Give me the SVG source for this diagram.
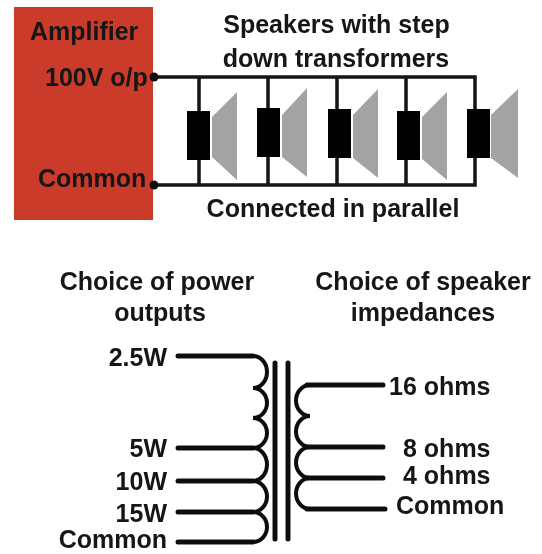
<svg xmlns="http://www.w3.org/2000/svg" width="542" height="554" viewBox="0 0 542 554">
<style>
text{font-family:"Liberation Sans",Arial,sans-serif;font-weight:bold;font-size:25px;fill:#151515}
.m{text-anchor:middle}.e{text-anchor:end}
.w{fill:none;stroke:#151515;stroke-width:3.5}
.t{fill:none;stroke:#111;stroke-width:5;stroke-linecap:round}
.c{fill:none;stroke:#111;stroke-width:4}
.b{fill:#050505}.s{fill:#a3a3a3}
</style>
<defs><filter id="f" x="-5%" y="-5%" width="110%" height="110%"><feGaussianBlur stdDeviation="0.6"/></filter></defs>
<rect width="542" height="554" fill="#fff"/>
<g filter="url(#f)">
<g id="amplifier">
<rect x="14" y="7" width="139" height="213" fill="#cb3b2c"/>
<text x="30" y="40">Amplifier</text>
<text x="45" y="86">100V o/p</text>
<text x="38" y="187">Common</text>
</g>
<g id="connectors">
<path class="w" d="M153 77H475V185H153M199 77V185M268 77V185M337 77V185M406 77V185"/>
<circle cx="154" cy="77" r="4.5" fill="#111"/>
<circle cx="154" cy="185" r="4.5" fill="#111"/>
</g>
<g id="speaker1"><rect class="b" x="187" y="111" width="23" height="49"/><path class="s" d="M212 117L237 92V180L212 157Z"/></g>
<g id="speaker2"><rect class="b" x="257" y="108" width="23" height="49"/><path class="s" d="M282 115L307 88V177L282 157Z"/></g>
<g id="speaker3"><rect class="b" x="328" y="109" width="23" height="49"/><path class="s" d="M353 115L378 89V178L353 158Z"/></g>
<g id="speaker4"><rect class="b" x="397" y="111" width="23" height="49"/><path class="s" d="M422 117L447 92V180L422 159Z"/></g>
<g id="speaker5"><rect class="b" x="467" y="109" width="23" height="49"/><path class="s" d="M491 115L518 89V178L491 158Z"/></g>
<g id="labels-top">
<text class="m" x="336.500" y="33">Speakers with step</text>
<text class="m" x="336" y="67">down transformers</text>
<text class="m" x="333" y="217">Connected in parallel</text>
<text class="m" x="157" y="290">Choice of power</text>
<text class="m" x="160" y="321">outputs</text>
<text class="m" x="423" y="290">Choice of speaker</text>
<text class="m" x="423" y="321">impedances</text>
</g>
<g id="primary">
<path class="c" d="M253 356A14 16 0 0 1 253 388A14 15 0 0 1 253 418A14 15 0 0 1 253 448A14 16.500 0 0 1 253 481A14 15.500 0 0 1 253 512A14 15 0 0 1 253 542"/>
<path class="t" d="M178 356H253M178 448H253M178 481H253M178 512H253M178 542H253"/>
<text class="e" x="167" y="366">2.5W</text>
<text class="e" x="167" y="457">5W</text>
<text class="e" x="167" y="490">10W</text>
<text class="e" x="167" y="522">15W</text>
<text class="e" x="167" y="548">Common</text>
</g>
<g id="core"><path class="t" d="M275 363V539M288 363V539"/></g>
<g id="secondary">
<path class="c" d="M310 385A14 15.500 0 0 0 310 416A14 15.500 0 0 0 310 447A14 15.500 0 0 0 310 478A14 15.500 0 0 0 310 509"/>
<path class="t" d="M307 385H383M307 447H383M307 478H383M307 509H385"/>
<text x="389" y="395">16 ohms</text>
<text x="403" y="457">8 ohms</text>
<text x="403" y="484">4 ohms</text>
<text x="396" y="514">Common</text>
</g>
</g>
</svg>
